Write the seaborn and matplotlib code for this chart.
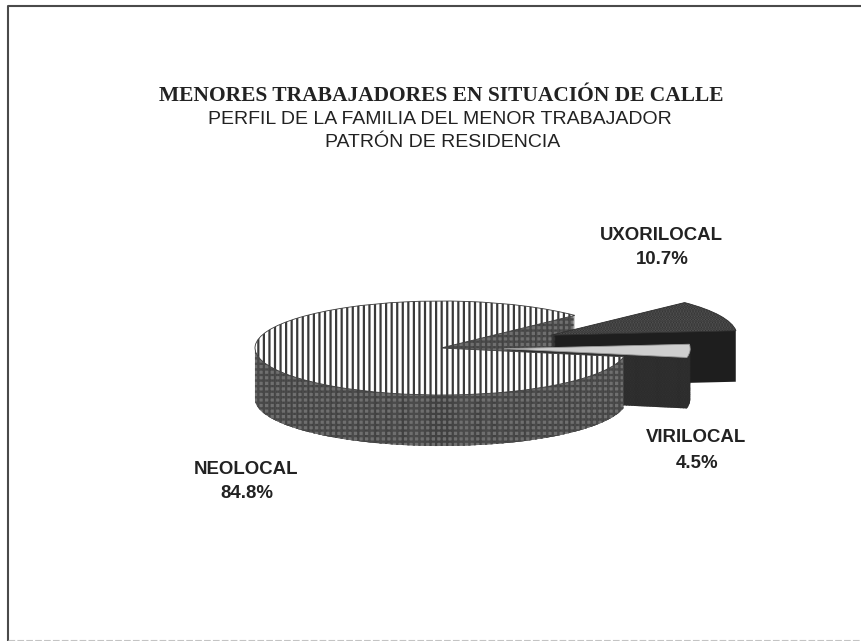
import matplotlib
matplotlib.use("Agg")
import matplotlib.pyplot as plt
import seaborn as sns

sns.set_theme(style="white")
plt.rcParams["hatch.linewidth"] = 1.6

# Share of households by residence pattern (percent)
categories = ["NEOLOCAL", "VIRILOCAL", "UXORILOCAL"]
shares = [84.8, 4.5, 10.7]
label_text = ["84.8%", "4.5%", "10.7%"]
explode = [0.0, 0.34, 0.65]

top_colors = sns.color_palette(["#ffffff", "#cfcfcf", "#5a5a5a"])
wall_colors = sns.color_palette(["#6f6f6f", "#333333", "#1e1e1e"])
top_hatch = ["|||", None, "......"]
wall_hatch = ["|||---", "......", None]
hatch_ink = ["#3a3a3a", "#9a9a9a", "#303030"]
wall_ink = ["#404040", "#2a2a2a", "#1e1e1e"]

W, H = 862, 641
CX, CY, RX, RY = 441, 348, 186, 47
DEPTH = 51

fig = plt.figure(figsize=(W / 100, H / 100), dpi=100, facecolor="white")
ax = fig.add_axes([0, 0, 1, 1])


def layer(offset, colors, hatches, inks, lw):
    """One horizontal slice of the extruded pie, shifted down by offset pixels."""
    wedges, _ = ax.pie(
        shares,
        explode=explode,
        colors=colors,
        startangle=44,
        radius=1,
        center=(0, -offset / RY),
        normalize=True,
        wedgeprops={"linewidth": lw},
    )
    for w, hatch, ink in zip(wedges, hatches, inks):
        w.set_edgecolor(ink)
        w.set_hatch(hatch)
    return wedges


# Painter's order: far cut of the big slice, the two pulled-out slices,
# then the near half of the big slice on top of them.
for k in range(DEPTH, 0, -1):
    wedges = layer(k, wall_colors, wall_hatch, wall_ink, 0)
    wedges[0].set_zorder(1)
    wedges[2].set_zorder(2)
    wedges[1].set_zorder(3)
    near = layer(k, wall_colors, wall_hatch, wall_ink, 0)
    near[0].set_theta1(180)
    near[0].set_zorder(4)
    near[1].set_visible(False)
    near[2].set_visible(False)

tops = layer(0, top_colors, top_hatch, hatch_ink, 0.6)
tops[0].set_zorder(5)
tops[1].set_zorder(3.5)
tops[2].set_zorder(2.5)

ax.set_aspect("auto")
ax.set_xlim(-CX / RX, (W - CX) / RX)
ax.set_ylim((CY - H) / RY, CY / RY)
ax.axis("off")


def put(px, py, text, **kw):
    fig.text(px / W, 1 - py / H, text, ha="center", va="center", color="#222222", **kw)


put(441, 96, "MENORES TRABAJADORES EN SITUACIÓN DE CALLE",
    family="Liberation Serif", fontweight="bold", fontsize=15.5)
put(440, 120, "PERFIL DE LA FAMILIA DEL MENOR TRABAJADOR",
    family="Liberation Sans", fontsize=14)
put(443, 143, "PATRÓN DE RESIDENCIA", family="Liberation Sans", fontsize=14)

bold = dict(family="Liberation Sans", fontweight="bold", fontsize=13.4)
label_pos = [(246, 469, 493), (696, 438, 463), (661, 235, 260)]
for name, value, (px, y1, y2) in zip(categories, label_text, label_pos):
    put(px, y1, name, **bold)
    put(px + 1, y2, value, **bold)

# Page frame: solid on the left and top, a faint broken rule along the bottom
fig.add_artist(plt.Line2D([8 / W, 8 / W, 1], [0, 1 - 6 / H, 1 - 6 / H],
                          color="#4a4a4a", lw=1.5))
fig.add_artist(plt.Line2D([8 / W, 1], [1 - 639.5 / H] * 2,
                          color="#c4c4c4", lw=0.8, ls=(0, (6, 2))))

fig.savefig("out.png", dpi=100)
